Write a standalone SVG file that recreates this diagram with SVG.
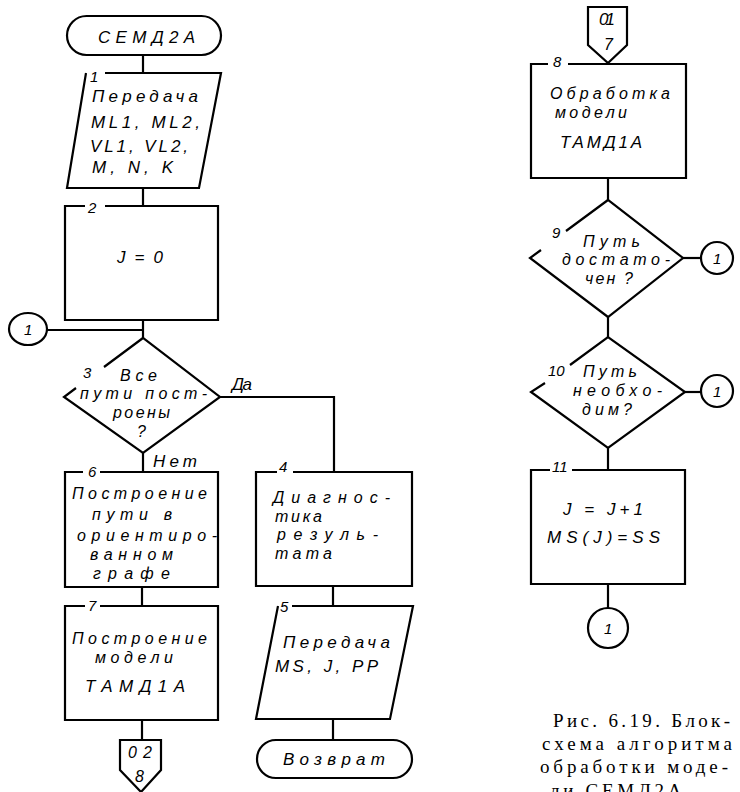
<svg xmlns="http://www.w3.org/2000/svg" width="740" height="792" viewBox="0 0 740 792">
<style>
.ln{fill:none;stroke:#000;stroke-width:2.2;stroke-linejoin:miter}
.t{font-family:"Liberation Sans",Arial,sans-serif;font-style:italic;font-size:17px;fill:#000}
.s{font-size:16px}
.n{font-family:"Liberation Sans",Arial,sans-serif;font-style:italic;font-size:15px;fill:#000}
.cap{font-family:"Liberation Serif","Times New Roman",serif;font-size:19px;fill:#000}
</style>
<rect width="740" height="792" fill="#fff"/>
<g id="connectors" class="ln">
<path d="M143,55 V73"/>
<path d="M143,188 V206"/>
<path d="M143,320 V338"/>
<path d="M47,330 H143"/>
<path d="M220,397 H334 V472"/>
<path d="M143,453 V472"/>
<path d="M142,587 V606"/>
<path d="M142,720 V740"/>
<path d="M333,586 V606"/>
<path d="M333,719 V740"/>
<path d="M608,178 V200"/>
<path d="M608,317 V337"/>
<path d="M683,258 H701"/>
<path d="M685,392 H701"/>
<path d="M608,448 V470"/>
<path d="M608,584 V608"/>
</g>
<g id="start">
<rect class="ln" x="67" y="16" width="154" height="39" rx="19.5"/>
<text class="t" x="98" y="43" textLength="97" font-size="18">СЕМД2А</text>
</g>
<g id="block1">
<path class="ln" d="M105,73 H221 L199,188 H67 L86,73"/>
<text class="n" x="90" y="82">1</text>
<text class="t" x="92" y="102" textLength="106">Передача</text>
<text class="t" x="91" y="128" textLength="109">ML1, ML2,</text>
<text class="t" x="90" y="152" textLength="98">VL1, VL2,</text>
<text class="t" x="92" y="173" textLength="81">M, N, K</text>
</g>
<g id="block2">
<path class="ln" d="M85,206 H65 V320 H218 V206 H105"/>
<text class="n" x="88" y="213">2</text>
<text class="t" x="117" y="263" textLength="46" font-size="18">J = 0</text>
</g>
<g id="conn-left">
<ellipse class="ln" cx="28" cy="329" rx="19" ry="16"/>
<text class="n" x="24" y="335">1</text>
</g>
<g id="block3">
<path class="ln" d="M104,367 L143,338 L220,397 L143,453 L64,397 L76,388"/>
<text class="n" x="83" y="378">3</text>
<text class="t s" x="120" y="381" textLength="37">Все</text>
<text class="t s" x="80" y="399" textLength="127">пути пост-</text>
<text class="t s" x="113" y="418" textLength="57">роены</text>
<text class="t s" x="137" y="437">?</text>
<text class="t" x="232" y="390" textLength="20">Да</text>
<text class="t" x="153" y="467" textLength="44">Нет</text>
</g>
<g id="block6">
<path class="ln" d="M83,472 H65 V587 H218 V472 H100"/>
<text class="n" x="88" y="477">6</text>
<text class="t s" x="72" y="499" textLength="135">Построение</text>
<text class="t s" x="92" y="520" textLength="80">пути в</text>
<text class="t s" x="77" y="541" textLength="140">ориентиро-</text>
<text class="t s" x="90" y="560" textLength="83">ванном</text>
<text class="t s" x="93" y="579" textLength="77">графе</text>
</g>
<g id="block7">
<path class="ln" d="M85,606 H65 V720 H218 V606 H100"/>
<text class="n" x="88" y="611">7</text>
<text class="t s" x="72" y="644" textLength="135">Построение</text>
<text class="t s" x="95" y="663" textLength="78">модели</text>
<text class="t" x="85" y="692" textLength="100">ТАМД1А</text>
</g>
<g id="offpage-02">
<path class="ln" d="M120,740 H161 V770 L141,792 L120,770 Z"/>
<text class="t s" x="128" y="758" textLength="24">02</text>
<text class="t s" x="135" y="782">8</text>
</g>
<g id="block4">
<path class="ln" d="M277,472 H256 V586 H412 V472 H293"/>
<text class="n" x="279" y="472">4</text>
<text class="t s" x="273" y="503" textLength="117">Диагнос-</text>
<text class="t s" x="275" y="522" textLength="47">тика</text>
<text class="t s" x="277" y="540" textLength="101">резуль-</text>
<text class="t s" x="275" y="559" textLength="57">тата</text>
</g>
<g id="block5">
<path class="ln" d="M292,606 H413 L390,719 H256 L278,606"/>
<text class="n" x="280" y="612">5</text>
<text class="t" x="283" y="648" textLength="107">Передача</text>
<text class="t" x="275" y="672" textLength="103">MS, J, PP</text>
</g>
<g id="end">
<rect class="ln" x="257" y="740" width="155" height="38" rx="19"/>
<text class="t" x="283" y="765" textLength="102" font-size="18">Возврат</text>
</g>
<g id="offpage-01">
<path class="ln" d="M588,7 H627 V45 L608,63 L588,45 Z"/>
<text class="t" x="599" y="25" textLength="16" font-size="13">01</text>
<text class="t s" x="604" y="50">7</text>
</g>
<g id="block8">
<path class="ln" d="M548,64 H531 V178 H686 V64 H568"/>
<text class="n" x="553" y="67">8</text>
<text class="t s" x="550" y="99" textLength="120">Обработка</text>
<text class="t s" x="555" y="118" textLength="72">модели</text>
<text class="t" x="560" y="148" textLength="82">ТАМД1А</text>
</g>
<g id="block9">
<path class="ln" d="M566,231 L608,200 L683,258 L608,317 L530,258 L541,250"/>
<text class="n" x="552" y="238">9</text>
<text class="t s" x="583" y="247" textLength="57">Путь</text>
<text class="t s" x="562" y="265" textLength="108">достато-</text>
<text class="t s" x="585" y="284" textLength="48">чен ?</text>
</g>
<g id="conn-r1">
<circle class="ln" cx="717" cy="258" r="16"/>
<text class="n" x="713" y="264">1</text>
</g>
<g id="block10">
<path class="ln" d="M570,365 L608,337 L685,392 L608,448 L531,392 L545,383"/>
<text class="n" x="548" y="376">10</text>
<text class="t s" x="583" y="377" textLength="54">Путь</text>
<text class="t s" x="573" y="396" textLength="89">необхо-</text>
<text class="t s" x="582" y="415" textLength="50">дим?</text>
</g>
<g id="conn-r2">
<circle class="ln" cx="717" cy="391" r="16"/>
<text class="n" x="713" y="397">1</text>
</g>
<g id="block11">
<path class="ln" d="M550,470 H531 V584 H685 V470 H572"/>
<text class="n" x="552" y="472">11</text>
<text class="t" x="563" y="515" textLength="80" font-size="18">J = J+1</text>
<text class="t" x="547" y="543" textLength="113" font-size="18">MS(J)=SS</text>
</g>
<g id="conn-bottom">
<circle class="ln" cx="608" cy="628" r="20"/>
<text class="n" x="604" y="634">1</text>
</g>
<g id="caption">
<text class="cap" x="553" y="727" textLength="177">Рис. 6.19. Блок-</text>
<text class="cap" x="542" y="750" textLength="190">схема алгоритма</text>
<text class="cap" x="540" y="773" textLength="188">обработки моде-</text>
<text class="cap" x="550" y="797" textLength="140">ли СЕМД2А.</text>
</g>
</svg>
